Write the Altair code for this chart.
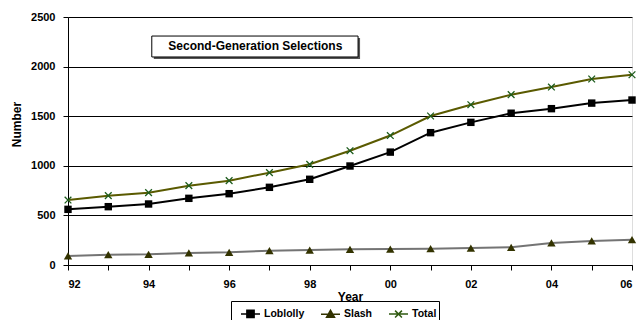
import altair as alt
import pandas as pd

years = list(range(1992, 2007))
loblolly = [561, 588, 615, 672, 719, 783, 864, 998, 1138, 1334, 1438, 1530, 1576, 1632, 1663]
slash = [91, 104, 108, 121, 128, 144, 151, 158, 161, 164, 171, 178, 222, 242, 255]
total = [655, 699, 729, 800, 850, 931, 1015, 1152, 1305, 1502, 1616, 1717, 1794, 1875, 1918]

series_names = ["Loblolly", "Slash", "Total"]
line_colors = ["#000000", "#747474", "#5a5a00"]
marker_colors = ["#000000", "#333300", "#1d5c1d"]
legend_colors = ["#000000", "#333300", "#2f5a10"]
legend_paths = [
    "M-1,0L1,0M-0.38,-0.38L0.38,-0.38L0.38,0.38L-0.38,0.38Z",
    "M-1,0L1,0M-0.42,0.32L0,-0.42L0.42,0.32Z",
    "M-1,0L1,0M-0.36,-0.36L0.36,0.36M-0.36,0.36L0.36,-0.36",
]
y_ticks = [0, 500, 1000, 1500, 2000, 2500]

ann_text = ["Second-Generation Selections"]
ann_x = [1996.65]
ann_y = [2203]
ann_x0 = [1994.08]
ann_x1 = [1999.2]
ann_y0 = [2097]
ann_y1 = [2308]

FONT = "Liberation Sans"

rows = []
for name, vals in zip(series_names, [loblolly, slash, total]):
    for yr, v in zip(years, vals):
        rows.append({"year": yr, "series": name, "value": v})
df = pd.DataFrame(rows)

ann_df = pd.DataFrame({"text": ann_text, "x": ann_x, "y": ann_y,
                       "x0": ann_x0, "x1": ann_x1, "y0": ann_y0, "y1": ann_y1})

x_scale = alt.Scale(domain=[1992, 2006], nice=False, zero=False)
y_scale = alt.Scale(domain=[0, 2500], nice=False)

x_axis = alt.Axis(
    values=years,
    labelExpr="datum.value % 2 == 0 ? substring(toString(datum.value), 2, 4) : ''",
    grid=False, tickSize=5, labelPadding=8, labelFontSize=11, labelFontWeight="bold",
    labelFont=FONT, labelColor="black", title="Year", titleFont=FONT, titleFontSize=12,
    titleFontWeight="bold", titleColor="black", titleBaseline="alphabetic", titleY=35,
    domainColor="black", tickColor="black", labelOverlap=False,
)
y_axis = alt.Axis(
    values=y_ticks, format="d", grid=True, gridColor="black", gridWidth=1,
    tickSize=5, labelPadding=8, labelFontSize=11, labelFontWeight="bold", labelFont=FONT,
    labelColor="black", title="Number", titleFont=FONT, titleFontSize=12,
    titleFontWeight="bold", titleColor="black", titleX=-52, titleY=107,
    titleBaseline="middle", titleAngle=270, domainColor="black", tickColor="black",
)


def xe(field):
    return alt.X(field, scale=x_scale, axis=x_axis)


def ye(field):
    return alt.Y(field, scale=y_scale, axis=y_axis)


base = alt.Chart(df)

lines = base.mark_line(strokeWidth=2).encode(
    x=xe("year:Q"), y=ye("value:Q"),
    color=alt.Color("series:N", scale=alt.Scale(domain=series_names, range=line_colors), legend=None),
)

shapes = ["square", "triangle-up", "M-1,-1L1,1M-1,1L1,-1"]
sizes = [55, 70, 45]
filled = [True, True, False]
marker_layers = []
for name, shp, sz, fl, col in zip(series_names, shapes, sizes, filled, marker_colors):
    marker_layers.append(
        base.transform_filter(alt.datum.series == name)
        .mark_point(shape=shp, size=sz, filled=fl, color=col, strokeWidth=1.3, opacity=1)
        .encode(x=xe("year:Q"), y=ye("value:Q"))
    )

legend_def = alt.Legend(
    orient="none", legendX=163, legendY=284, direction="horizontal", title=None,
    strokeColor="black", fillColor="white", padding=2, symbolOffset=7,
    labelFont=FONT, labelFontSize=10.5, labelFontWeight="bold", labelColor="black",
    symbolSize=361, symbolStrokeWidth=1.5, symbolOpacity=1, columnPadding=8, labelOffset=3,
)
# carries only the legend: its own points are drawn with zero size
legend_layer = base.mark_point(size=0, opacity=1).encode(
    x=xe("year:Q"), y=ye("value:Q"),
    shape=alt.Shape("series:N", scale=alt.Scale(domain=series_names, range=legend_paths),
                    legend=legend_def),
    stroke=alt.Stroke("series:N", scale=alt.Scale(domain=series_names, range=legend_colors),
                      legend=legend_def),
    fill=alt.Fill("series:N", scale=alt.Scale(domain=series_names, range=legend_colors),
                  legend=legend_def),
)

ann = alt.Chart(ann_df)
shadow = ann.mark_rect(fill="#555555", xOffset=2, x2Offset=2, yOffset=2, y2Offset=2).encode(
    x=xe("x0:Q"), x2="x1:Q", y=ye("y0:Q"), y2="y1:Q")
box = ann.mark_rect(fill="white", stroke="black", strokeWidth=1).encode(
    x=xe("x0:Q"), x2="x1:Q", y=ye("y0:Q"), y2="y1:Q")
label = ann.mark_text(font=FONT, fontSize=12, fontWeight="bold", color="black",
                      align="center", baseline="middle").encode(
    x=xe("x:Q"), y=ye("y:Q"), text="text:N")

chart = alt.layer(legend_layer, shadow, box, label, lines, *marker_layers).properties(
    width=564, height=248,
    autosize=alt.AutoSizeParams(type="none"),
    padding={"left": 68, "top": 17, "right": 9, "bottom": 55},
    background="white",
).configure_view(stroke="#808080", strokeWidth=1.5).configure(font=FONT)

chart.save("out.html", embed_options={"renderer": "svg", "actions": False})
